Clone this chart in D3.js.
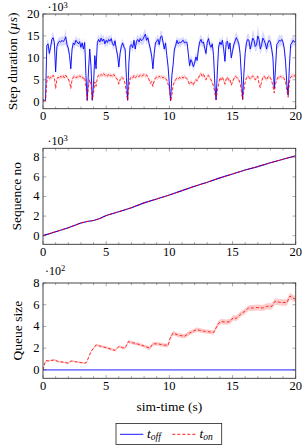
<!DOCTYPE html>
<html><head><meta charset="utf-8">
<script src="https://cdn.jsdelivr.net/npm/d3@7/dist/d3.min.js"></script>
<style>
body{margin:0;background:#fff}
svg{display:block}
</style>
</head><body><svg id="c" width="305" height="445"></svg>
<script>
// ---------- DATA ----------
// step duration samples every 0.1 s (values in 10^3 µs)
const stepTime = d3.range(0, 201).map(i => i / 10);
const stepOff = [
 0.4,0.3,0.3,12.8,13.2,11.0,12.4,14.2,14.6,13.5,
 6.8,12.6,13.4,13.8,13.6,14.0,13.7,14.1,14.8,13.0,
 12.2,10.5,7.5,12.0,13.4,13.0,14.0,13.6,13.2,13.7,
 12.4,13.4,12.0,13.5,6.0,0.3,7.0,12.0,8.0,0.3,
 4.0,10.5,7.5,13.5,14.2,13.6,14.5,13.8,14.3,13.2,
 14.0,13.5,14.2,13.8,14.4,13.2,12.8,13.9,12.0,10.6,
 7.9,11.0,12.6,13.4,12.5,12.0,5.5,0.3,9.0,12.8,
 13.0,12.3,14.0,12.0,13.8,14.2,13.6,14.4,13.9,14.2,
 14.8,15.4,14.0,14.6,13.2,12.0,10.4,7.5,11.0,13.4,
 13.8,14.2,13.0,14.8,15.0,13.6,12.0,13.4,10.5,8.0,
 4.0,0.2,6.0,8.5,12.0,12.8,14.0,13.2,13.6,13.4,
 13.8,14.0,13.4,13.6,13.5,11.0,8.2,9.6,9.0,8.0,
 8.8,10.2,9.4,12.0,13.6,14.2,13.4,13.6,12.2,11.0,
 13.6,14.4,13.0,12.4,13.2,10.5,4.0,0.4,7.0,12.5,
 13.6,13.0,14.0,12.0,9.2,13.5,13.8,12.0,13.4,10.0,
 11.5,13.0,13.8,14.6,14.0,13.2,11.0,6.0,0.5,6.5,
 11.0,13.5,14.2,14.0,12.0,13.2,14.5,14.0,12.6,13.0,
 15.0,14.2,12.0,13.0,14.5,14.0,13.2,12.0,13.4,14.0,
 13.6,12.0,10.0,3.0,7.5,13.0,13.4,14.0,13.8,14.2,
 13.5,12.0,9.0,4.0,1.5,8.0,13.0,13.4,14.0,13.6,
 13.8];
const stepOffErr = [
 0.1,0.1,0.1,1.0,1.0,1.2,1.0,1.2,1.4,1.0,
 1.0,1.0,0.9,1.0,1.0,1.1,1.0,1.2,1.8,1.0,
 1.0,1.0,1.0,1.0,0.9,1.0,1.0,1.0,0.9,1.0,
 1.0,1.0,1.0,1.0,1.0,0.2,1.0,1.0,1.0,0.2,
 0.8,1.0,1.0,1.2,1.0,1.0,1.2,1.0,1.0,1.0,
 1.2,1.0,1.0,1.0,1.1,1.0,1.0,1.0,1.0,1.0,
 1.0,1.0,1.0,1.0,1.0,1.0,1.0,0.2,1.0,1.0,
 1.0,1.0,1.0,1.0,1.0,1.1,1.0,1.2,1.0,1.2,
 1.4,1.3,1.0,1.0,1.0,1.0,1.0,1.0,1.0,1.0,
 1.0,1.2,1.0,1.4,1.2,1.0,1.0,1.0,1.0,1.0,
 1.0,0.2,1.0,1.0,1.0,1.0,1.0,1.0,1.0,1.0,
 0.8,0.8,0.8,0.8,0.8,1.0,1.0,1.0,1.0,1.0,
 1.0,1.0,1.0,1.0,1.2,1.2,1.0,1.0,1.0,1.0,
 1.0,1.2,1.0,1.0,1.0,1.0,1.0,0.2,1.0,1.0,
 1.0,1.0,1.2,1.0,1.0,1.0,1.2,1.0,1.0,1.0,
 1.0,1.0,1.2,1.4,1.2,1.0,1.0,1.0,0.2,1.0,
 1.0,1.2,1.4,1.4,1.2,1.2,2.0,1.6,1.2,1.4,
 2.4,1.6,1.2,1.4,1.8,1.4,1.2,1.2,1.4,1.4,
 1.2,1.2,1.0,0.5,1.0,1.2,1.2,1.4,1.2,1.2,
 1.0,1.0,1.0,1.0,0.5,1.0,1.0,1.2,1.0,1.0,
 1.0];
const stepOn = [
 0.4,0.3,0.3,4.5,5.8,5.2,5.6,5.4,6.0,5.5,
 3.0,5.2,5.6,5.3,5.8,5.5,5.9,5.4,6.0,5.6,
 5.2,4.5,3.0,5.0,5.6,5.8,5.4,5.7,5.5,5.9,
 5.6,5.8,5.2,5.5,3.5,0.3,3.5,5.0,4.0,0.4,
 2.0,4.5,3.5,5.5,6.0,5.8,6.2,5.9,6.4,6.0,
 6.1,5.8,6.3,5.9,6.0,5.7,6.2,5.8,5.4,5.0,
 4.0,5.0,5.6,5.4,5.2,4.0,2.0,0.3,3.5,5.4,
 5.6,5.4,6.0,5.5,5.8,6.0,5.7,6.1,5.8,6.0,
 6.2,5.9,6.1,5.6,5.0,4.2,4.6,3.5,4.8,5.4,
 5.6,5.4,5.8,5.5,5.7,5.4,5.6,5.2,5.0,4.0,
 3.0,0.1,1.5,3.8,4.5,5.0,5.4,5.2,5.5,5.3,
 5.6,5.4,5.8,5.5,5.2,4.6,4.0,4.5,4.2,3.8,
 4.6,5.0,4.8,5.4,6.0,6.4,5.8,6.2,5.6,5.0,
 5.8,6.0,5.4,5.0,4.4,3.5,2.0,0.5,2.5,4.0,
 5.5,5.0,5.6,4.8,4.0,5.2,5.6,4.8,5.0,3.8,
 4.5,5.2,5.8,5.6,5.4,5.0,4.2,2.5,0.5,2.5,
 4.5,5.4,5.8,5.6,5.2,5.5,5.9,5.6,5.0,5.4,
 5.8,4.0,3.2,4.6,5.6,5.8,5.4,5.0,5.6,5.8,
 5.4,4.8,3.5,2.0,4.0,5.0,5.6,5.4,5.8,5.5,
 5.6,5.2,4.5,2.5,1.0,4.5,5.6,5.8,6.0,5.8,
 6.2];
const stepOnErr = stepOn.map(v => v > 1 ? 0.5 : 0.1);

// sequence number (values in 10^3)
const seqTime = [0,1,2,3,3.5,4,4.5,5,6,7,8,9,10,11,12,13,14,15,16,17,18,19,20];
const seqOff  = [0,0.4,0.8,1.3,1.45,1.55,1.75,2.05,2.45,2.85,3.35,3.75,4.15,4.6,5.05,5.45,5.9,6.3,6.7,7.05,7.45,7.8,8.15];
const seqOn   = [0,0.4,0.8,1.3,1.45,1.55,1.75,2.05,2.45,2.85,3.35,3.75,4.15,4.6,5.05,5.45,5.9,6.3,6.7,7.05,7.45,7.8,8.15];

// queue size (values in 10^2)
const queueOffTime = [0, 20];
const queueOff = [0, 0];
const queueTime = [0,0.2,0.5,0.9,1.2,1.6,2.0,2.25,2.6,3.0,3.3,3.45,3.8,4.2,4.5,5.0,5.7,6.0,6.3,6.5,
 6.75,7.1,7.6,8.0,8.45,8.7,9.1,9.5,9.9,10.05,10.3,10.7,11.2,11.6,12.15,12.4,12.8,13.2,13.5,13.9,
 14.1,14.5,14.8,15.05,15.3,15.7,16.0,16.25,16.6,17.0,17.4,17.7,18.1,18.35,18.6,18.9,19.3,19.55,19.8,20];
const queueOn = [0,0.85,0.83,0.93,0.77,0.72,0.62,0.83,0.75,0.68,0.62,0.70,1.7,2.3,2.2,2.05,1.8,2.15,2.05,2.0,
 2.6,2.5,2.35,2.2,2.0,2.4,2.4,2.3,2.25,2.9,3.4,3.2,3.1,3.4,3.7,3.65,3.55,3.5,3.45,4.3,
 4.45,4.4,4.45,4.8,4.75,5.2,5.4,5.7,5.7,5.75,5.7,5.85,5.85,6.3,6.25,6.2,6.2,6.8,6.6,6.5];
const queueOnErr = [0,0.08,0.08,0.08,0.08,0.08,0.08,0.08,0.08,0.08,0.08,0.08,0.1,0.12,0.12,0.12,0.12,0.12,0.12,0.12,
 0.15,0.15,0.15,0.15,0.18,0.18,0.18,0.18,0.18,0.2,0.2,0.2,0.2,0.2,0.2,0.2,0.2,0.2,0.2,0.22,
 0.25,0.25,0.25,0.25,0.25,0.25,0.25,0.25,0.28,0.28,0.28,0.28,0.28,0.3,0.3,0.3,0.3,0.3,0.3,0.3];

const xTicks = [0,5,10,15,20];
const xMinorTicks = d3.range(0, 21);

// ---------- DRAW ----------
const FONT = "Liberation Serif";
const svg = d3.select("#c");
const BLUE = "#0000ff", RED = "#ff0000";
const DASH = "3,2";
const X0 = 43, X1 = 295.7;
const x = d3.scaleLinear().domain([0, 20]).range([X0, X1]);

const panels = [
  {y0:14, y1:108.7, dom:[-1.6,20], yt:[0,5,10,15,20], exp:"3", expX:47.5, expY:11,
   title:"step", tx:12},
  {y0:148.3, y1:244.3, dom:[-0.88,8.92], yt:[0,2,4,6,8], exp:"3", expX:47.5, expY:144.5,
   title:"Sequence no", tx:16.5},
  {y0:283, y1:378.3, dom:[-0.77,8.0], yt:[0,2,4,6,8], exp:"2", expX:45, expY:274.5,
   title:"Queue size", tx:17}
];

panels.forEach((p, i) => {
  p.y = d3.scaleLinear().domain(p.dom).range([p.y1, p.y0]);
  svg.append("clipPath").attr("id", "clip" + i).append("rect")
    .attr("x", X0).attr("y", p.y0).attr("width", X1 - X0).attr("height", p.y1 - p.y0);
  p.g = svg.append("g").attr("clip-path", `url(#clip${i})`);
});

function band(p, xs, ys, es, color, op) {
  const a = d3.area().x((d,i) => x(xs[i])).y0((d,i) => p.y(ys[i] - es[i])).y1((d,i) => p.y(ys[i] + es[i]));
  p.g.append("path").attr("d", a(ys)).attr("fill", color).attr("fill-opacity", op).attr("stroke", "none");
}
function line(p, xs, ys, color, dash, w) {
  const l = d3.line().x((d,i) => x(xs[i])).y(d => p.y(d));
  p.g.append("path").attr("d", l(ys)).attr("fill", "none").attr("stroke", color)
    .attr("stroke-width", w || 0.9).attr("stroke-dasharray", dash || null).attr("stroke-linejoin", "round");
}
function txt(sel) { return sel.append("text").attr("font-family", FONT).attr("fill", "#000"); }

// top panel
band(panels[0], stepTime, stepOff, stepOffErr, BLUE, 0.15);
band(panels[0], stepTime, stepOn, stepOnErr, RED, 0.15);
line(panels[0], stepTime, stepOff, BLUE, null, 0.9);
line(panels[0], stepTime, stepOn, RED, DASH, 0.8);
// middle
line(panels[1], seqTime, seqOff, BLUE, null, 1.1);
line(panels[1], seqTime, seqOn, RED, DASH, 1.0);
// bottom
band(panels[2], queueTime, queueOn, queueOnErr, RED, 0.2);
line(panels[2], queueOffTime, queueOff, "#7f7fff", null, 1.8);
line(panels[2], queueTime, queueOn, RED, DASH, 0.8);

// axes
panels.forEach(p => {
  const g = svg.append("g");
  xMinorTicks.forEach(t => {
    const L = (t % 5 === 0) ? 3.2 : 2.2;
    g.append("line").attr("x1", x(t)).attr("x2", x(t)).attr("y1", p.y1).attr("y2", p.y1 - L)
      .attr("stroke", "#555").attr("stroke-width", 0.5);
    g.append("line").attr("x1", x(t)).attr("x2", x(t)).attr("y1", p.y0).attr("y2", p.y0 + L)
      .attr("stroke", "#555").attr("stroke-width", 0.5);
  });
  p.yt.forEach(v => {
    g.append("line").attr("x1", X0).attr("x2", X0 + 3.2).attr("y1", p.y(v)).attr("y2", p.y(v))
      .attr("stroke", "#555").attr("stroke-width", 0.5);
    g.append("line").attr("x1", X1).attr("x2", X1 - 3.2).attr("y1", p.y(v)).attr("y2", p.y(v))
      .attr("stroke", "#555").attr("stroke-width", 0.5);
    txt(g).attr("x", 39.5).attr("y", p.y(v)).attr("text-anchor", "end")
      .attr("dominant-baseline", "central").attr("font-size", 12.5).text(v);
  });
  xTicks.forEach(t => {
    txt(g).attr("x", x(t)).attr("y", p.y1 + 7.5).attr("text-anchor", "middle")
      .attr("dominant-baseline", "central").attr("font-size", 12.5).text(t);
  });
  g.append("rect").attr("x", X0).attr("y", p.y0).attr("width", X1 - X0).attr("height", p.y1 - p.y0)
    .attr("fill", "none").attr("stroke", "#333").attr("stroke-width", 0.9);
  const e = txt(g).attr("x", p.expX).attr("y", p.expY).attr("font-size", 12);
  e.append("tspan").text("·10");
  e.append("tspan").attr("dy", -3.5).attr("font-size", 8.5).text(p.exp);
  const tt = txt(g).attr("transform", `translate(${p.tx},${(p.y0 + p.y1) / 2}) rotate(-90)`)
    .attr("text-anchor", "middle").attr("dominant-baseline", "central").attr("font-size", 13.5);
  if (p.title === "step") {
    tt.append("tspan").text("Step duration (");
    tt.append("tspan").attr("font-style", "italic").text("µs");
    tt.append("tspan").text(")");
  } else tt.text(p.title);
});

txt(svg).attr("x", (X0 + X1) / 2).attr("y", 406).attr("text-anchor", "middle")
  .attr("dominant-baseline", "central").attr("font-size", 13.5).text("sim-time (s)");

// legend
const lg = svg.append("g");
lg.append("rect").attr("x", 116).attr("y", 423.5).attr("width", 105.7).attr("height", 21)
  .attr("fill", "#fff").attr("stroke", "#222").attr("stroke-width", 0.8);
lg.append("line").attr("x1", 120).attr("x2", 143.3).attr("y1", 434.3).attr("y2", 434.3)
  .attr("stroke", BLUE).attr("stroke-width", 0.9);
lg.append("line").attr("x1", 172.3).attr("x2", 196.7).attr("y1", 434.3).attr("y2", 434.3)
  .attr("stroke", RED).attr("stroke-width", 0.9).attr("stroke-dasharray", DASH);
function legText(xp, sub) {
  const t = txt(lg).attr("x", xp).attr("y", 437.5).attr("font-size", 13.5).attr("font-style", "italic");
  t.append("tspan").text("t");
  t.append("tspan").attr("dy", 2.5).attr("font-size", 9.5).text(sub);
}
legText(147, "off");
legText(199.5, "on");
</script>
</body></html>
